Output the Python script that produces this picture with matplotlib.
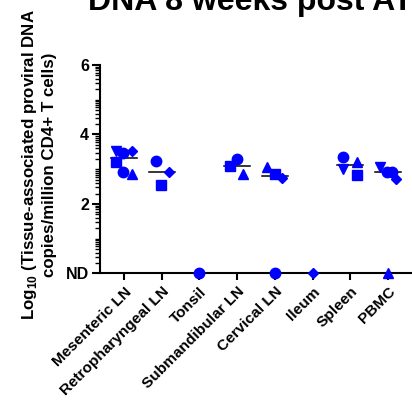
import numpy as np
import matplotlib
matplotlib.use("Agg")
import matplotlib.pyplot as plt

plt.rcParams["font.family"] = ["Liberation Sans", "DejaVu Sans"]
plt.rcParams["font.weight"] = "bold"
plt.rcParams["mathtext.fontset"] = "custom"
plt.rcParams["mathtext.rm"] = "Liberation Sans:bold"
plt.rcParams["mathtext.bf"] = "Liberation Sans:bold"

TISSUES = ["Mesenteric LN", "Retropharyngeal LN", "Tonsil", "Submandibular LN",
           "Cervical LN", "Ileum", "Spleen", "PBMC"]

# log10 copies per animal and tissue (0 = ND, None = not sampled)
ANIMAL_SQUARE = [3.20, 2.56, None, 3.09, 2.86, None, 2.82, None]
ANIMAL_CIRCLE = [3.46, 3.23, 0.0, 3.29, 0.0, None, 3.36, 2.92]
ANIMAL_TRIANGLE = [2.87, None, None, 2.86, 3.07, None, 3.22, 0.0]
ANIMAL_INVTRI = [3.53, None, None, None, None, None, 3.00, 3.05]
ANIMAL_DIAMOND = [3.52, 2.93, None, None, 2.76, 0.0, None, 2.71]
ANIMAL_CIRCLE2 = [2.93, None, None, None, None, None, None, 2.92]

Y_TICKS = [0, 2, 4, 6]
Y_TICKLABELS = ["ND", "2", "4", "6"]

animals = [
    (ANIMAL_SQUARE, "s", 7, [-0.22, -0.03, 0, -0.18, 0.0, 0, 0.19, 0]),
    (ANIMAL_CIRCLE, "o", 7.5, [-0.02, -0.15, 0, 0.0, 0.0, 0, -0.18, -0.03]),
    (ANIMAL_TRIANGLE, "^", 7.5, [0.2, 0, 0, 0.15, -0.21, 0, 0.19, 0.0]),
    (ANIMAL_INVTRI, "v", 7.5, [-0.22, 0, 0, 0, 0, 0, -0.18, -0.22]),
    (ANIMAL_DIAMOND, "D", 5.5, [0.2, 0.18, 0, 0, 0.19, 0.0, 0, 0.22]),
    (ANIMAL_CIRCLE2, "o", 7.5, [-0.02, 0, 0, 0, 0, 0, 0, 0.1]),
]

fig = plt.figure(figsize=(4.12, 4.01), dpi=100)
ax = fig.add_axes([0.2427, 0.318, 0.7573, 0.52])

blue = "#0000FF"
for vals, mk, ms, offs in animals:
    for i, v in enumerate(vals):
        if v is None:
            continue
        ax.plot(i + offs[i], v, marker=mk, ms=ms, color=blue, mec=blue,
                ls="none", clip_on=False, zorder=4)

# median line per tissue
for i in range(len(TISSUES)):
    col = [a[0][i] for a in animals if a[0][i] is not None]
    med = float(np.median(col))
    ax.plot([i - 0.34, i + 0.34], [med, med], color="black", lw=1.1,
            clip_on=False, zorder=3)

ax.set_xlim(-0.64, 7.64)
ax.set_ylim(0, 6)
ax.set_xticks(range(len(TISSUES)))
ax.set_xticklabels(TISSUES, rotation=45, ha="right", va="top",
                   rotation_mode="anchor", fontsize=11.1, fontweight="bold")
ax.set_yticks(Y_TICKS)
ax.set_yticklabels(Y_TICKLABELS, fontsize=11.5, fontweight="bold")

minor = []
for n in range(6):
    for k in range(2, 11):
        minor.append(n + np.log10(k))
ax.set_yticks([m for m in minor if m not in Y_TICKS and m <= 6], minor=True)

for s in ["top", "right"]:
    ax.spines[s].set_visible(False)
for s in ["left", "bottom"]:
    ax.spines[s].set_linewidth(1.5)
ax.tick_params(axis="y", which="major", length=6, width=1.5, pad=2)
ax.tick_params(axis="y", which="minor", length=3.5, width=1.0)
ax.tick_params(axis="x", which="major", length=5, width=1.5, pad=3)

fig.text(0.0935, 0.59,
         "Log$_{10}$ (Tissue-associated proviral DNA\ncopies/million CD4+ T cells)",
         rotation=90, ha="center", va="center", fontsize=12.2, fontweight="bold",
         linespacing=1.25, multialignment="center")

fig.text(0.2136, 1 - 10 / 401, "DNA 8 weeks post ATI", ha="left", va="baseline",
         fontsize=23, fontweight="bold")

fig.savefig("out.png", dpi=100)
